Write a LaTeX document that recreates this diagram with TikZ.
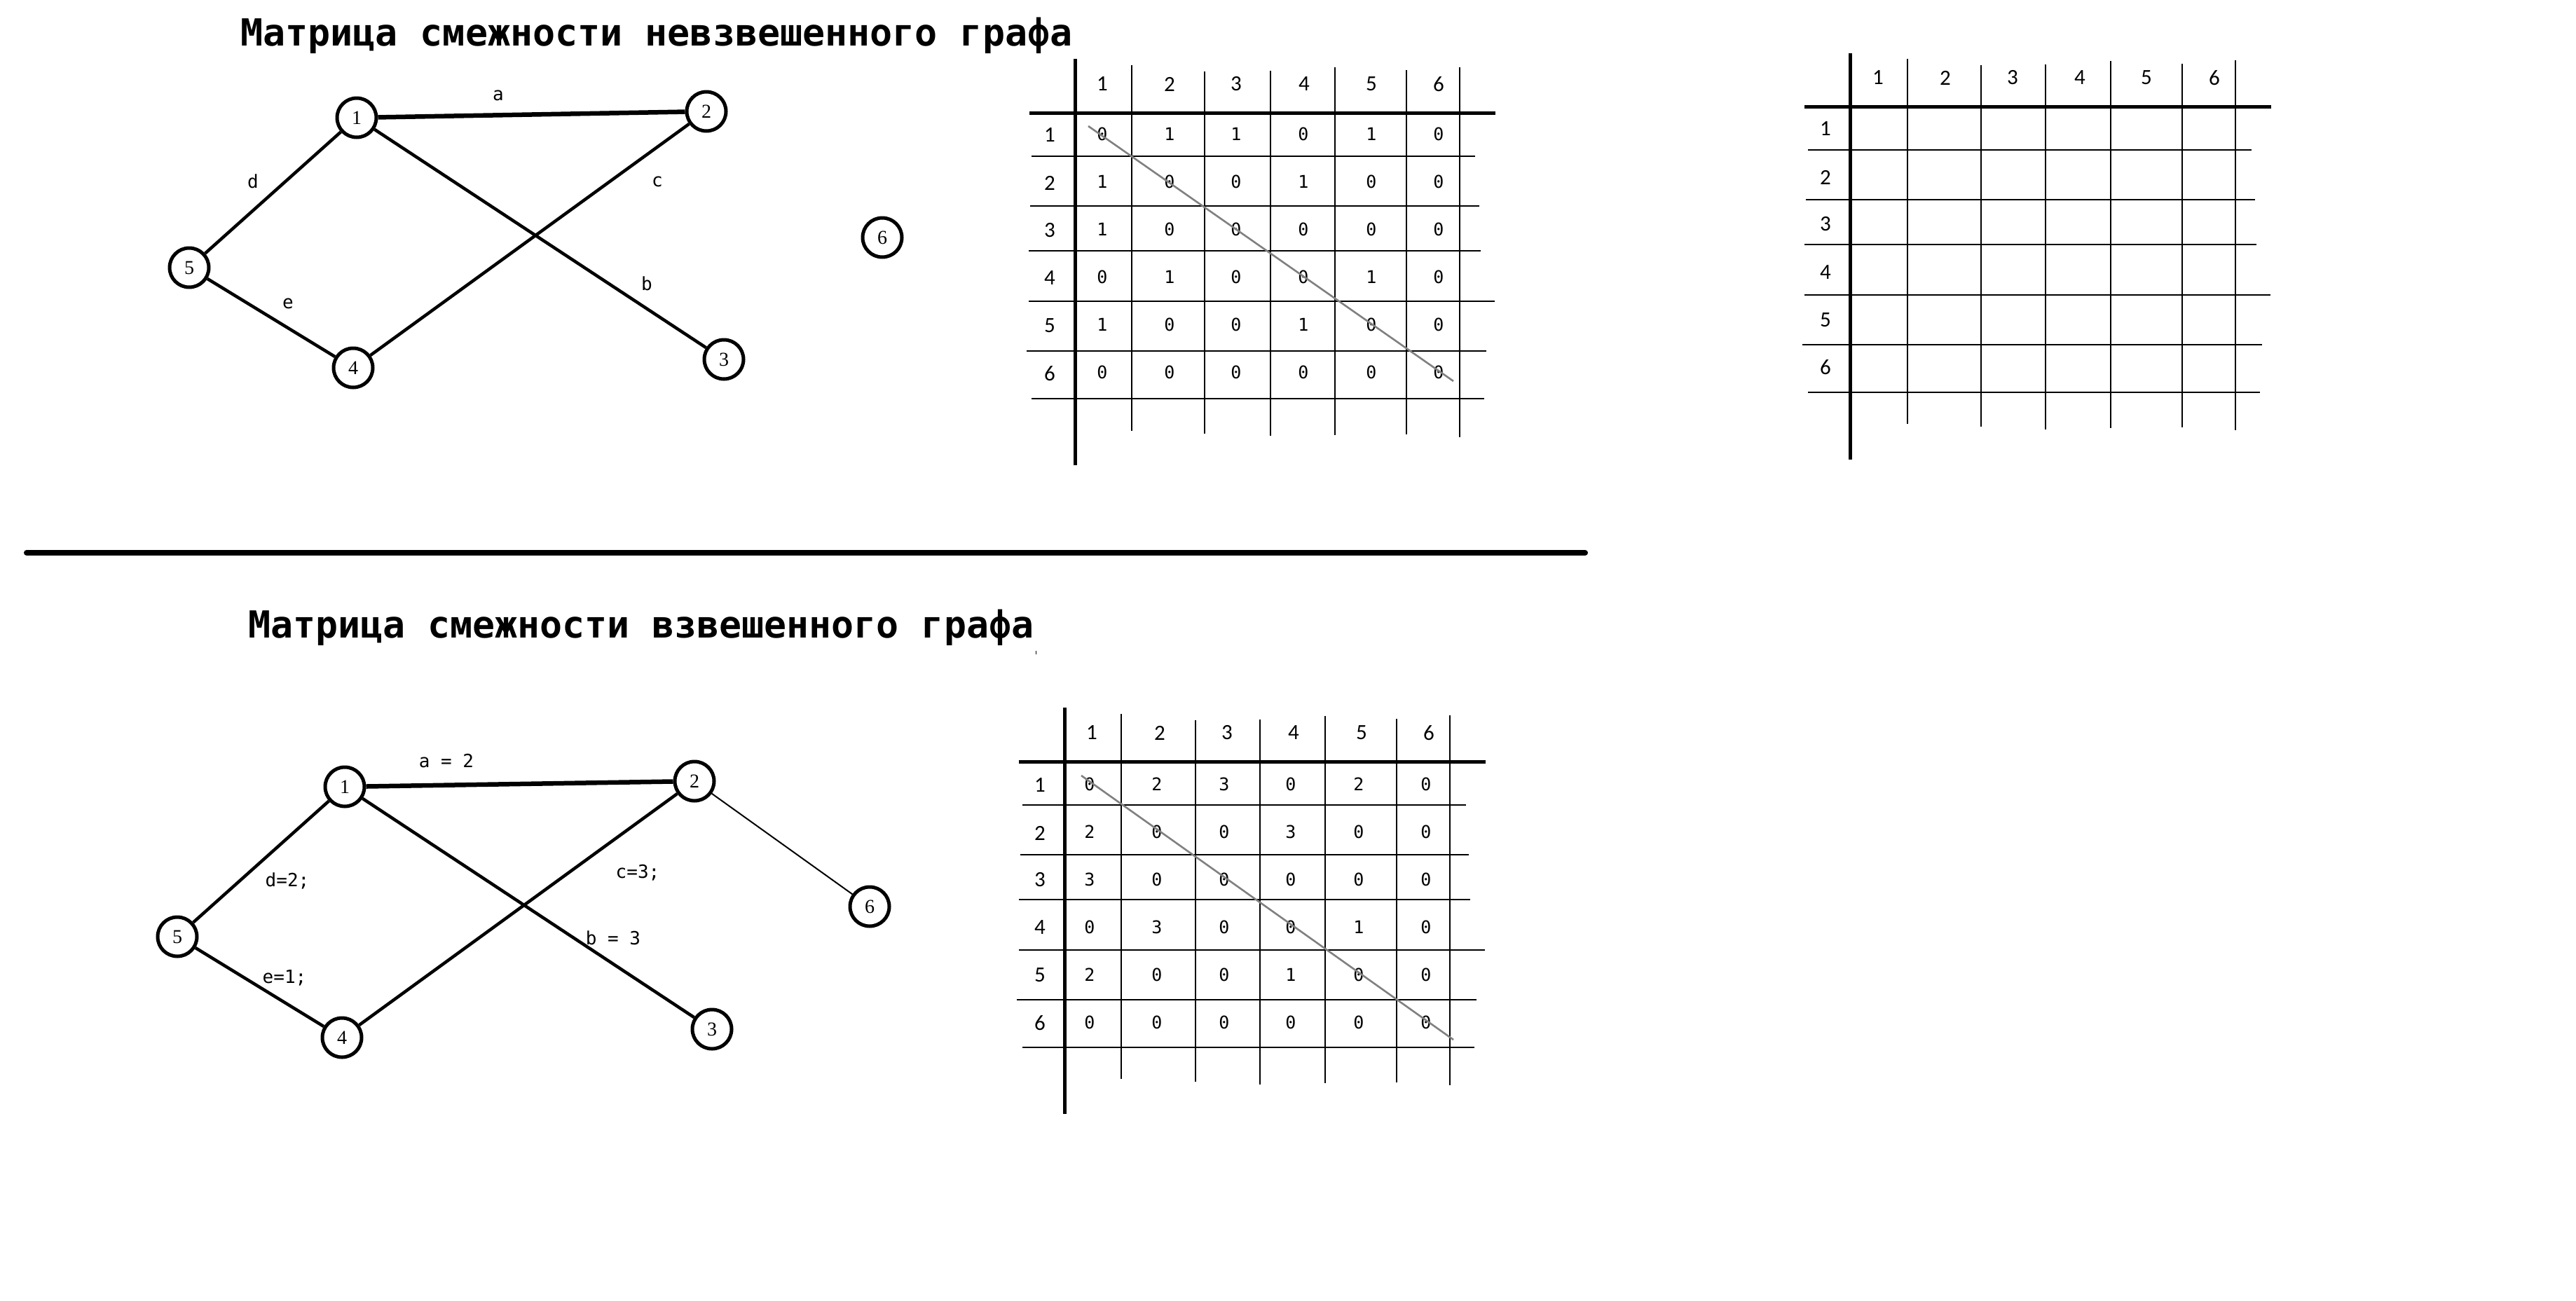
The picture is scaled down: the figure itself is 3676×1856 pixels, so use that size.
\documentclass[tikz,border=0pt]{standalone}
\usepackage{fontspec}
\setmainfont{Liberation Serif}
\newfontfamily\rsMono{DejaVu Sans Mono}
\newfontfamily\rsHdr{Carlito}
\newcommand\rsTitleA{\rsMono\bfseries\fontsize{53.3}{60}\selectfont}
\newcommand\rsTitleB{\rsMono\bfseries\fontsize{53.2}{60}\selectfont}
\newcommand\rsCell{\rsMono\fontsize{25}{28}\selectfont}
\newcommand\rsEdge{\rsMono\fontsize{26}{28}\selectfont}
\newcommand\rsHead{\rsHdr\fontsize{31}{34}\selectfont}
\newcommand\rsVert{\fontsize{28}{30}\selectfont}
\def\valsA{{0,1,1,0,1,0, 1,0,0,1,0,0, 1,0,0,0,0,0, 0,1,0,0,1,0, 1,0,0,1,0,0, 0,0,0,0,0,0}}
\def\valsB{{0,2,3,0,2,0, 2,0,0,3,0,0, 3,0,0,0,0,0, 0,3,0,0,1,0, 2,0,0,1,0,0, 0,0,0,0,0,0}}
\begin{document}
\begin{tikzpicture}[x=1pt,y=-1pt,
  vert/.style={circle, draw, line width=5pt, minimum size=56pt, inner sep=0pt, font=\rsVert},
  edgeline/.style={line width=4.5pt},
  edgethick/.style={line width=6.5pt},
  edgethin/.style={line width=2pt},
  elab/.style={anchor=base, inner sep=0pt, font=\rsEdge},
  cell/.style={inner sep=0pt, anchor=center, font=\rsCell},
  head/.style={inner sep=0pt, anchor=center, font=\rsHead},
  gridthick/.style={line width=5pt},
  gridthin/.style={line width=1.5pt},
  diag/.style={line width=2.6pt, draw=gray},
  titlestyle/.style={anchor=base west, inner sep=0pt}
]
\fill[white] (0,0) rectangle (3676,1856);
\useasboundingbox (0,0) rectangle (3676,1856);

% ---------- titles ----------
\node[titlestyle, font=\rsTitleA] (title1) at (343,65) {Матрица смежности невзвешенного графа};
\node[titlestyle, font=\rsTitleB] (title2) at (354,910) {Матрица смежности взвешенного графа};

% ---------- separator ----------
\draw[line width=8pt, line cap=round] (38,789) -- (2262,789);
\draw[line width=1pt] (1478,929) -- (1478,934);

% ---------- upper graph ----------
\node[vert] (u1) at (509,168) {1};
\node[vert] (u2) at (1008,159) {2};
\node[vert] (u3) at (1033,513) {3};
\node[vert] (u4) at (504,525) {4};
\node[vert] (u5) at (270,382) {5};
\node[vert] (u6) at (1259,339) {6};
\draw[edgethick] (u1) -- (u2);
\draw[edgeline] (u1) -- (u5);
\draw[edgeline] (u2) -- (u4);
\draw[edgeline] (u1) -- (u3);
\draw[edgeline] (u5) -- (u4);
\node[elab] (ula) at (711,143) {a};
\node[elab] (uld) at (361,268) {d};
\node[elab] (ulc) at (938,266) {c};
\node[elab] (ulb) at (923,414) {b};
\node[elab] (ule) at (411,440) {e};

% ---------- lower graph ----------
\node[vert] (l1) at (492,1123) {1};
\node[vert] (l2) at (991,1115) {2};
\node[vert] (l3) at (1016,1469) {3};
\node[vert] (l4) at (488,1481) {4};
\node[vert] (l5) at (253,1337) {5};
\node[vert] (l6) at (1241,1294) {6};
\draw[edgethick] (l1) -- (l2);
\draw[edgeline] (l1) -- (l5);
\draw[edgeline] (l2) -- (l4);
\draw[edgeline] (l1) -- (l3);
\draw[edgeline] (l5) -- (l4);
\draw[edgethin] (l2) -- (l6);
\node[elab] (lla) at (637,1095) {a = 2};
\node[elab] (lld) at (410,1265) {d=2;};
\node[elab] (llc) at (910,1253) {c=3;};
\node[elab] (llb) at (875,1348) {b = 3};
\node[elab] (lle) at (406,1403) {e=1;};

% ---------- matrix A (unweighted) ----------
\draw[gridthick] (1534,84) -- (1534,664);
\draw[gridthick] (1469,161) -- (2134,161);
\foreach \x/\t/\b in {1615/93/615, 1719/102/619, 1813/101/622, 1905/96/621, 2007/100/620, 2083/96/624}
  \draw[gridthin] (\x,\t) -- (\x,\b);
\foreach \y/\l/\r in {223/1472/2105, 294/1470/2111, 358/1468/2113, 430/1468/2133, 501/1465/2121, 569/1472/2118}
  \draw[gridthin] (\l,\y) -- (\r,\y);
\foreach \x [count=\c] in {1573,1669,1764,1861,1957,2053}
  \node[head] (Ah\c) at (\x,120) {\c};
\foreach \y [count=\r] in {193,261,329,397,465,533}
  \node[head] (Ar\r) at (1498,\y) {\r};
\foreach \y [count=\r] in {191,259,327,395,463,531}{
  \foreach \x [count=\c] in {1573,1669,1764,1860,1957,2053}{
    \pgfmathtruncatemacro\v{\valsA[(\r-1)*6+\c-1]}
    \node[cell] (A-\r-\c) at (\x,\y) {\v};
  }
}
\draw[diag] (1553,180) -- (2074,544);

% ---------- matrix B (empty) ----------
\draw[gridthick] (2640,76) -- (2640,656);
\draw[gridthick] (2575,152) -- (3241,152);
\foreach \x/\t/\b in {2722/84/605, 2827/93/609, 2919/92/613, 3012/87/611, 3114/91/610, 3190/86/614}
  \draw[gridthin] (\x,\t) -- (\x,\b);
\foreach \y/\l/\r in {214/2580/3213, 285/2577/3218, 349/2575/3220, 421/2575/3240, 492/2572/3228, 560/2580/3225}
  \draw[gridthin] (\l,\y) -- (\r,\y);
\foreach \x [count=\c] in {2680,2776,2872,2968,3063,3160}
  \node[head] (Bh\c) at (\x,111) {\c};
\foreach \y [count=\r] in {184,253,320,389,457,524}
  \node[head] (Br\r) at (2605,\y) {\r};

% ---------- matrix C (weighted) ----------
\draw[gridthick] (1519,1010) -- (1519,1590);
\draw[gridthick] (1454,1087) -- (2120,1087);
\foreach \x/\t/\b in {1600/1019/1540, 1706/1028/1544, 1798/1027/1548, 1891/1022/1546, 1993/1026/1545, 2069/1021/1549}
  \draw[gridthin] (\x,\t) -- (\x,\b);
\foreach \y/\l/\r in {1149/1459/2092, 1220/1456/2096, 1284/1454/2098, 1356/1454/2119, 1427/1451/2107, 1495/1459/2104}
  \draw[gridthin] (\l,\y) -- (\r,\y);
\foreach \x [count=\c] in {1558,1655,1751,1846,1943,2039}
  \node[head] (Ch\c) at (\x,1046) {\c};
\foreach \y [count=\r] in {1121,1189,1256,1324,1392,1460}
  \node[head] (Cr\r) at (1484,\y) {\r};
\foreach \y [count=\r] in {1119,1187,1255,1323,1391,1459}{
  \foreach \x [count=\c] in {1555,1651,1747,1842,1939,2035}{
    \pgfmathtruncatemacro\v{\valsB[(\r-1)*6+\c-1]}
    \node[cell] (C-\r-\c) at (\x,\y) {\v};
  }
}
\draw[diag] (1543,1107) -- (2074,1484);
\end{tikzpicture}
\end{document}
